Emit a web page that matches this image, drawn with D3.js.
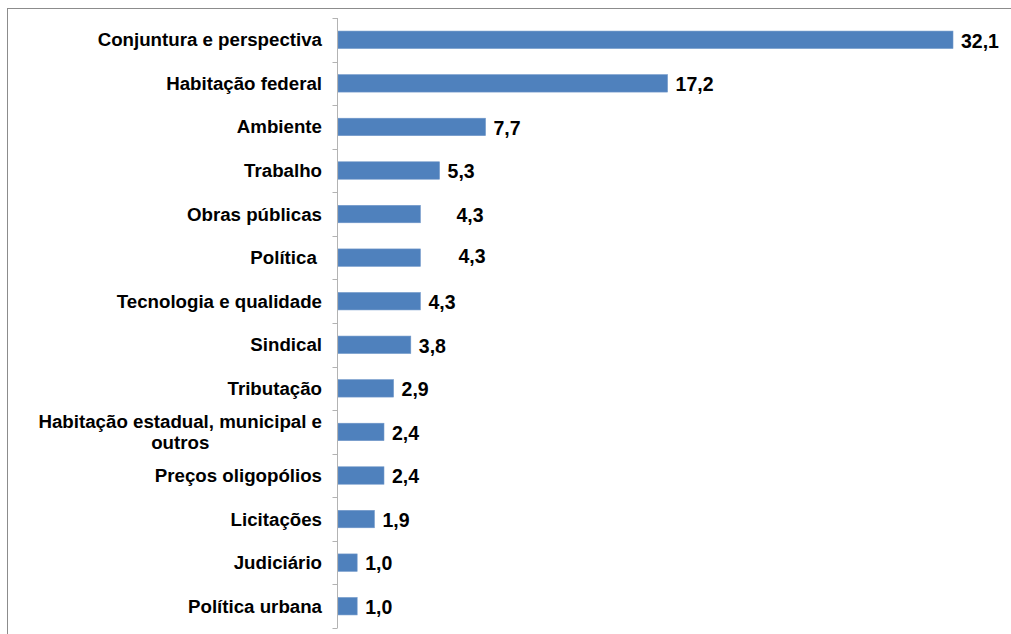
<!DOCTYPE html>
<html>
<head>
<meta charset="utf-8">
<script src="https://cdn.jsdelivr.net/npm/d3@7"></script>
<style>
  html, body { margin: 0; padding: 0; background: #fff; }
  svg { display: block; font-family: "Liberation Sans", Arial, sans-serif; }
</style>
</head>
<body>
<svg id="chart" width="1011" height="634"></svg>
<script>
// Categories (top to bottom) and their shares, in %
const categories = [
  "Conjuntura e perspectiva",
  "Habitação federal",
  "Ambiente",
  "Trabalho",
  "Obras públicas",
  "Política ",
  "Tecnologia e qualidade",
  "Sindical",
  "Tributação",
  "Habitação estadual, municipal e outros",
  "Preços oligopólios",
  "Licitações",
  "Judiciário",
  "Política urbana"
];
const values = [32.1, 17.2, 7.7, 5.3, 4.3, 4.3, 4.3, 3.8, 2.9, 2.4, 2.4, 1.9, 1.0, 1.0];

const svg = d3.select("#chart");
const W = 1011, H = 634;

// Chart area frame
svg.append("rect")
  .attr("x", 7.5).attr("y", 8.5)
  .attr("width", W + 20).attr("height", H + 20)
  .attr("fill", "none").attr("stroke", "#8c8c8c").attr("stroke-width", 1);

const plot = { left: 337.5, top: 18, bottom: 628 };

const x = d3.scaleLinear().domain([0, 32.1]).range([plot.left + 0.5, 953]);
const y = d3.scaleBand().domain(categories).range([plot.top, plot.bottom])
  .paddingInner(0.6).paddingOuter(0.3);

const fmt = d3.formatLocale({ decimal: ",", thousands: ".", grouping: [3], currency: ["R$", ""] }).format(".1f");

// Bars
svg.append("g").selectAll("rect")
  .data(categories)
  .join("rect")
  .attr("x", x(0))
  .attr("y", d => y(d))
  .attr("width", (d, i) => x(values[i]) - x(0))
  .attr("height", y.bandwidth())
  .attr("fill", "#4f81bd")
  .attr("stroke", "#6f97c8")
  .attr("stroke-width", 0.6);

// Category axis: vertical line with tick marks between categories
const axis = svg.append("g").attr("stroke", "#b3b3b3").attr("stroke-width", 1);
axis.append("line")
  .attr("x1", plot.left).attr("x2", plot.left)
  .attr("y1", plot.top).attr("y2", plot.bottom);
const step = (plot.bottom - plot.top) / categories.length;
axis.selectAll("line.tick")
  .data(d3.range(categories.length + 1))
  .join("line")
  .attr("class", "tick")
  .attr("x1", plot.left - 5).attr("x2", plot.left)
  .attr("y1", i => Math.round(plot.top + i * step) + 0.5)
  .attr("y2", i => Math.round(plot.top + i * step) + 0.5);

// Category labels, wrapped when wider than the label area
const labelRight = 322;
const maxLabelWidth = 295;
const labels = svg.append("g")
  .attr("font-size", "18.7px").attr("font-weight", "bold").attr("fill", "#000");

categories.forEach(cat => {
  const cy = y(cat) + y.bandwidth() / 2;
  const t = labels.append("text").style("white-space", "pre");
  // greedy wrap
  const words = cat.split(" ");
  const lines = [];
  let cur = "";
  words.forEach(w => {
    const trial = cur ? cur + " " + w : w;
    t.text(trial);
    if (t.node().getComputedTextLength() > maxLabelWidth && cur) {
      lines.push(cur);
      cur = w;
    } else {
      cur = trial;
    }
  });
  lines.push(cur);
  t.text(null);
  const lh = 21;
  if (lines.length === 1) {
    t.attr("x", labelRight).attr("y", cy).attr("dy", "0.35em")
      .attr("text-anchor", "end").text(cat);
  } else {
    const widths = lines.map(l => { t.text(l); return t.node().getComputedTextLength(); });
    t.text(null);
    const blockW = d3.max(widths);
    const cx = labelRight - blockW / 2;
    t.attr("text-anchor", "middle");
    lines.forEach((l, k) => {
      t.append("tspan")
        .attr("x", cx)
        .attr("y", cy + (k - (lines.length - 1) / 2) * lh)
        .attr("dy", "0.35em")
        .text(l);
    });
  }
});

// Value labels; two of them sit a little further right
const labelNudge = { "Obras públicas": 28, "Política ": 30 };
svg.append("g")
  .attr("font-size", "19.5px").attr("font-weight", "bold").attr("fill", "#000")
  .selectAll("text")
  .data(categories)
  .join("text")
  .attr("x", (d, i) => x(values[i]) + 8 + (labelNudge[d] || 0))
  .attr("y", (d, i) => y(d) + y.bandwidth() / 2 + (d === "Política " ? -1 : 1))
  .attr("dy", "0.35em")
  .text((d, i) => fmt(values[i]));
</script>
</body>
</html>
